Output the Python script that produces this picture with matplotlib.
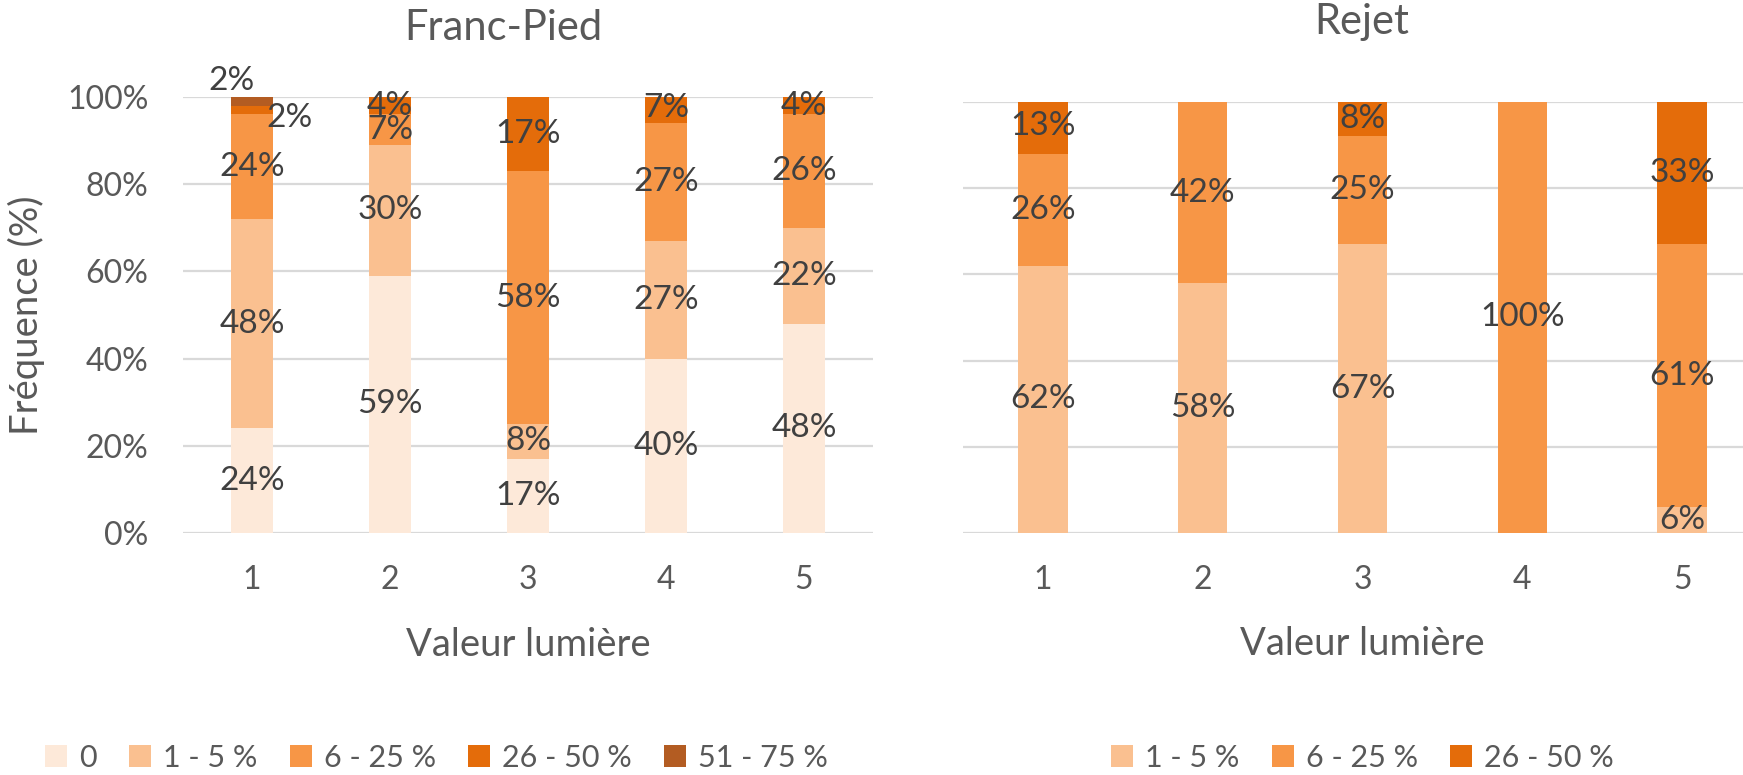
import matplotlib
matplotlib.use("Agg")
import matplotlib.pyplot as plt
from matplotlib.patches import Patch
import numpy as np

plt.rcParams["font.family"] = ["Lato", "DejaVu Sans"]

# ---- data -------------------------------------------------------------
categories = ["1", "2", "3", "4", "5"]

# Franc-Pied : share of each cover class per light value (%)
fp_classes = ["0", "1 - 5 %", "6 - 25 %", "26 - 50 %", "51 - 75 %"]
fp_0 = [24, 59, 17, 40, 48]
fp_1_5 = [48, 30, 8, 27, 22]
fp_6_25 = [24, 7, 58, 27, 26]
fp_26_50 = [2, 4, 17, 7, 4]
fp_51_75 = [2, 0, 0, 0, 0]

# Rejet
rj_classes = ["1 - 5 %", "6 - 25 %", "26 - 50 %"]
rj_1_5 = [62, 58, 67, 0, 6]
rj_6_25 = [26, 42, 25, 100, 61]
rj_26_50 = [13, 0, 8, 0, 33]

# ---- style ------------------------------------------------------------
C0, C1, C2, C3, C4 = "#FDE9D9", "#FAC090", "#F79646", "#E46C0A", "#B35C22"
GRID = "#D9D9D9"
TICK_COL = "#595959"
LABEL_COL = "#404040"

W, H = 1743, 775
fig = plt.figure(figsize=(W / 100, H / 100), dpi=100)


def px_axes(x0, y_top, x1, y_bot):
    return fig.add_axes([x0 / W, 1 - y_bot / H, (x1 - x0) / W, (y_bot - y_top) / H])


ax_l = px_axes(183, 97, 873, 533)
ax_r = px_axes(963, 102, 1762, 533)


def style_axes(ax, show_y):
    ax.set_xlim(0.5, 5.5)
    ax.set_ylim(0, 100)
    ax.set_yticks(np.arange(0, 101, 20))
    ax.yaxis.grid(True, color=GRID, linewidth=1.6)
    ax.set_axisbelow(True)
    for s in ax.spines.values():
        s.set_visible(False)
    ax.tick_params(axis="both", length=0, labelsize=23, colors=TICK_COL)
    ax.tick_params(axis="x", pad=23)
    ax.tick_params(axis="y", pad=25)
    ax.set_xticks(range(1, 6))
    ax.set_xticklabels(categories)
    if show_y:
        ax.set_yticklabels([f"{v}%" for v in range(0, 101, 20)])
    else:
        ax.set_yticklabels([])
    ax.set_xlabel("Valeur lumière", fontsize=27.5, color=TICK_COL)
    ax.xaxis.set_label_coords(0.5, -0.215)


def stacked(ax, series, colors, width, special=None):
    x = np.arange(1, len(categories) + 1)
    bottom = np.zeros(len(categories))
    for si, (vals, col) in enumerate(zip(series, colors)):
        vals = np.asarray(vals, dtype=float)
        ax.bar(x, vals, width, bottom=bottom, color=col, linewidth=0, zorder=2)
        for i, v in enumerate(vals):
            if v <= 0:
                continue
            yc = bottom[i] + v / 2
            dx, dy = (special or {}).get((si, i), (0, 0))
            ax.annotate(f"{int(v)}%", (x[i], yc), xytext=(dx, dy),
                        textcoords="offset pixels", ha="center", va="center",
                        fontsize=24, color=LABEL_COL, zorder=3,
                        annotation_clip=False)
        bottom += vals


style_axes(ax_l, True)
style_axes(ax_r, False)

stacked(ax_l, [fp_0, fp_1_5, fp_6_25, fp_26_50, fp_51_75],
        [C0, C1, C2, C3, C4], 0.31,
        special={(4, 0): (-20, 20), (3, 0): (38, -8)})
stacked(ax_r, [rj_1_5, rj_6_25, rj_26_50], [C1, C2, C3], 0.31)

ax_l.set_ylabel("Fréquence (%)", fontsize=27.5, color=TICK_COL)
ax_l.yaxis.set_label_coords(-0.200, 0.5)

fig.text(503 / W, 1 - 28 / H, "Franc-Pied", ha="center", va="center",
         fontsize=30, color=TICK_COL)
fig.text(1362 / W, 1 - 22 / H, "Rejet", ha="center", va="center",
         fontsize=30, color=TICK_COL)

leg_kw = dict(frameon=False, fontsize=22, handlelength=0.72, handleheight=0.72,
              handletextpad=0.4, columnspacing=1.05, borderaxespad=0,
              borderpad=0, labelcolor=TICK_COL)
fp_handles = [Patch(facecolor=c, edgecolor="none") for c in [C0, C1, C2, C3, C4]]
fig.legend(fp_handles, fp_classes, loc="center left", ncol=5,
           bbox_to_anchor=(45 / W, 1 - 758 / H), **leg_kw)
rj_handles = [Patch(facecolor=c, edgecolor="none") for c in [C1, C2, C3]]
fig.legend(rj_handles, rj_classes, loc="center left", ncol=3,
           bbox_to_anchor=(1111 / W, 1 - 758 / H), **leg_kw)

fig.savefig("out.png", dpi=100, facecolor="white")
